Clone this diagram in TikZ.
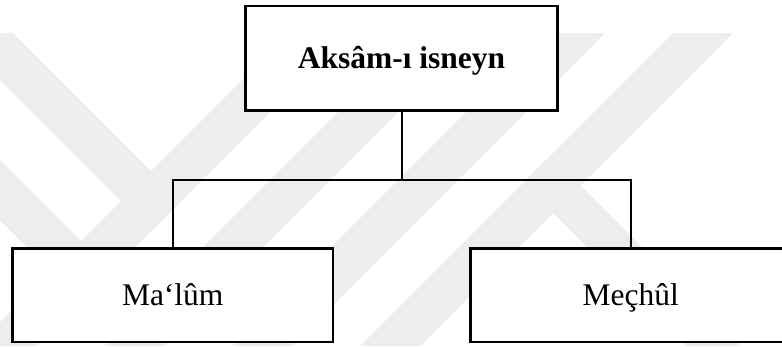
\documentclass[tikz,border=0pt]{standalone}
\usepackage{fontspec}
\setmainfont{Liberation Serif}
\begin{document}
\begin{tikzpicture}[
  x=1pt, y=-1pt,
  wm/.style={fill=black!7, draw=none},
  box/.style={draw=black, line width=2.6pt, fill=white, inner sep=0pt,
    text height=20pt, text depth=0pt,
    font=\fontsize{31.5}{36}\selectfont},
  conn/.style={draw=black, line width=2pt, line join=miter}
]
\clip (0,0) rectangle (782,346);

% faint background emblem: diagonal bands
\fill[wm] (-47,33) -- (13,33) -- (181,201) -- (151,231) -- cycle;
\fill[wm] (289,33) -- (349,33) -- (36,346) -- (-24,346) -- cycle;
\fill[wm] (-10,150) -- (81,241) -- (51,271) -- (-10,210) -- cycle;
\foreach \c in {450,578,706}{
  \fill[wm] (\c-33,33) -- (\c+27,33) -- (\c-286,346) -- (\c-346,346) -- cycle;
}
\fill[wm] (550.5,155.5) -- (741,346) -- (686,346) -- (523,183) -- cycle;

% boxes
\node[box, minimum width=311.5pt, minimum height=104.5pt] (root)
  at (401.5,58.25) {\textbf{Aksâm-ı isneyn}};
\node[box, minimum width=320.5pt, minimum height=93.5pt] (malum)
  at (172.75,295.25) {Ma‘lûm};
\node[box, minimum width=320.5pt, minimum height=93.5pt] (mechul)
  at (630.75,295.25) {Meçhûl};

% tree connectors
\coordinate (fork) at (401.5,180);
\draw[conn] (root.south) -- (fork);
\draw[conn] (malum.north) |- (fork) -| (mechul.north);
\end{tikzpicture}
\end{document}
